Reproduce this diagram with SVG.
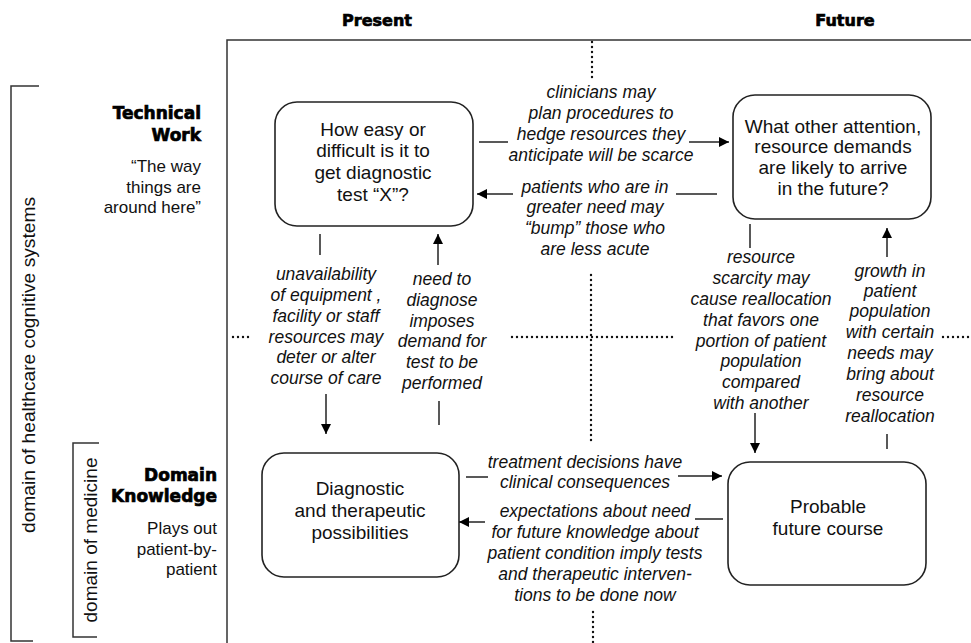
<svg xmlns="http://www.w3.org/2000/svg" width="971" height="643" viewBox="0 0 971 643">
<style>
.frame{stroke:#333;stroke-width:1.5;fill:none}
.box{fill:#fff;stroke:#222;stroke-width:1.6}
.ln{stroke:#222;stroke-width:1.5;fill:none}
.dot{stroke:#111;stroke-width:2.4;stroke-linecap:round;stroke-dasharray:0 5;fill:none}
.nt{font-family:"Liberation Sans",Arial,sans-serif;font-size:19px;fill:#111;text-anchor:middle}
.lb{font-family:"Liberation Sans",Arial,sans-serif;font-size:17.5px;font-style:italic;fill:#111;text-anchor:middle}
.hd{font-family:"DejaVu Sans",sans-serif;font-weight:bold;fill:#000;stroke:#000;stroke-width:0.7}
.sd{font-family:"Liberation Sans",Arial,sans-serif;font-size:17px;fill:#111;text-anchor:end}
.vt{font-family:"Liberation Sans",Arial,sans-serif;font-size:19px;fill:#111;text-anchor:middle}
</style>
<defs>
<marker id="ah" viewBox="0 0 10 10" refX="10" refY="5" markerWidth="10" markerHeight="10" markerUnits="userSpaceOnUse" orient="auto">
<path d="M0,0 L10,5 L0,10 Z" fill="#000"/>
</marker>
</defs>
<rect width="971" height="643" fill="#fff"/>

<g id="frame">
<path class="frame" d="M227,643 V40 H971"/>
<path class="dot" d="M592,42 V80"/>
<path class="dot" d="M591,275 V442"/>
<path class="dot" d="M593,612 V643"/>
<path class="dot" d="M233,337 H253"/>
<path class="dot" d="M512,337 H676"/>
<path class="dot" d="M943,337 H971"/>
<text class="hd" x="377" y="26" font-size="16" text-anchor="middle">Present</text>
<text class="hd" x="845" y="26" font-size="16" text-anchor="middle">Future</text>
</g>

<g id="brackets">
<path class="frame" d="M39,86 H11 V641 H33"/>
<path class="frame" d="M99,443 H73 V637 H97"/>
<text class="vt" transform="translate(35,365) rotate(-90)" textLength="336" lengthAdjust="spacingAndGlyphs">domain of healthcare cognitive systems</text>
<text class="vt" transform="translate(97,540) rotate(-90)" textLength="165" lengthAdjust="spacingAndGlyphs">domain of medicine</text>
</g>

<g id="row-technical-work">
<text class="hd" x="201" y="119" font-size="17" text-anchor="end">Technical</text>
<text class="hd" x="201" y="141" font-size="17" text-anchor="end">Work</text>
<text class="sd" x="201" y="172">“The way</text>
<text class="sd" x="201" y="193">things are</text>
<text class="sd" x="201" y="213">around  here”</text>
</g>

<g id="row-domain-knowledge">
<text class="hd" x="217" y="481" font-size="17" text-anchor="end">Domain</text>
<text class="hd" x="217" y="502" font-size="17" text-anchor="end">Knowledge</text>
<text class="sd" x="217" y="534">Plays out</text>
<text class="sd" x="217" y="555">patient-by-</text>
<text class="sd" x="217" y="575">patient</text>
</g>

<g id="node-diagnostic-test">
<rect class="box" x="275" y="102" width="198" height="124" rx="22"/>
<text class="nt" x="373" y="136">How easy or</text>
<text class="nt" x="373" y="157">difficult is it to</text>
<text class="nt" x="373" y="179">get diagnostic</text>
<text class="nt" x="373" y="201">test “X”?</text>
</g>

<g id="node-future-demands">
<rect class="box" x="733" y="95" width="198" height="124" rx="22"/>
<text class="nt" x="833" y="133">What other attention,</text>
<text class="nt" x="833" y="153">resource demands</text>
<text class="nt" x="833" y="174">are likely to arrive</text>
<text class="nt" x="833" y="195">in the future?</text>
</g>

<g id="node-possibilities">
<rect class="box" x="262" y="453" width="197" height="124" rx="22"/>
<text class="nt" x="360" y="495">Diagnostic</text>
<text class="nt" x="360" y="517">and  therapeutic</text>
<text class="nt" x="360" y="539">possibilities</text>
</g>

<g id="node-future-course">
<rect class="box" x="728" y="462" width="198" height="123" rx="22"/>
<text class="nt" x="828" y="513">Probable</text>
<text class="nt" x="828" y="535">future course</text>
</g>

<g id="connectors">
<path class="ln" d="M479,142 H508"/>
<path class="ln" d="M689,142 H729" marker-end="url(#ah)"/>
<path class="ln" d="M717,194 H676"/>
<path class="ln" d="M513,194 H477" marker-end="url(#ah)"/>
<path class="ln" d="M320,234 V255"/>
<path class="ln" d="M326,394 V434" marker-end="url(#ah)"/>
<path class="ln" d="M439,425 V401"/>
<path class="ln" d="M438,265 V234" marker-end="url(#ah)"/>
<path class="ln" d="M750,224 V248"/>
<path class="ln" d="M755,413 V453" marker-end="url(#ah)"/>
<path class="ln" d="M887,449 V434"/>
<path class="ln" d="M887,257 V228" marker-end="url(#ah)"/>
<path class="ln" d="M466,477 H488"/>
<path class="ln" d="M678,476 H722" marker-end="url(#ah)"/>
<path class="ln" d="M723,519 H695"/>
<path class="ln" d="M485,522 H459" marker-end="url(#ah)"/>
</g>

<g id="connector-labels">
<text class="lb" x="601" y="98">clinicians may</text>
<text class="lb" x="601" y="119">plan procedures to</text>
<text class="lb" x="601" y="140">hedge resources they</text>
<text class="lb" x="601" y="161">anticipate will be scarce</text>

<text class="lb" x="595" y="193">patients who are in</text>
<text class="lb" x="595" y="213">greater need may</text>
<text class="lb" x="595" y="234">“bump” those who</text>
<text class="lb" x="595" y="255">are less acute</text>

<text class="lb" x="326" y="280">unavailability</text>
<text class="lb" x="326" y="301">of equipment ,</text>
<text class="lb" x="326" y="322">facility or staff</text>
<text class="lb" x="326" y="343">resources may</text>
<text class="lb" x="326" y="363">deter or alter</text>
<text class="lb" x="326" y="384">course of care</text>

<text class="lb" x="442" y="285">need to</text>
<text class="lb" x="442" y="306">diagnose</text>
<text class="lb" x="442" y="327">imposes</text>
<text class="lb" x="442" y="347">demand for</text>
<text class="lb" x="442" y="368">test  to be</text>
<text class="lb" x="442" y="389">performed</text>

<text class="lb" x="761" y="263">resource</text>
<text class="lb" x="761" y="284">scarcity may</text>
<text class="lb" x="761" y="305">cause reallocation</text>
<text class="lb" x="761" y="326">that favors one</text>
<text class="lb" x="761" y="347">portion of patient</text>
<text class="lb" x="761" y="367">population</text>
<text class="lb" x="761" y="388">compared</text>
<text class="lb" x="761" y="409">with another</text>

<text class="lb" x="890" y="277">growth in</text>
<text class="lb" x="890" y="297">patient</text>
<text class="lb" x="890" y="317">population</text>
<text class="lb" x="890" y="338">with certain</text>
<text class="lb" x="890" y="359">needs may</text>
<text class="lb" x="890" y="380">bring about</text>
<text class="lb" x="890" y="401">resource</text>
<text class="lb" x="890" y="422">reallocation</text>

<text class="lb" x="585" y="468">treatment decisions have</text>
<text class="lb" x="585" y="488">clinical consequences</text>

<text class="lb" x="595" y="517">expectations about need</text>
<text class="lb" x="595" y="538">for future knowledge about</text>
<text class="lb" x="595" y="559">patient condition imply tests</text>
<text class="lb" x="595" y="580">and therapeutic interven-</text>
<text class="lb" x="595" y="601">tions to be done now</text>
</g>
</svg>
